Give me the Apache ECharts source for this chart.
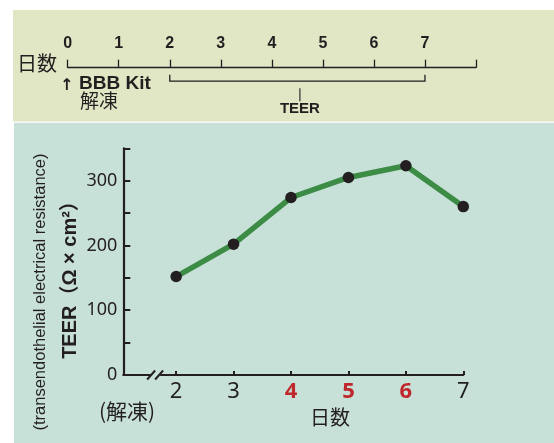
<!DOCTYPE html>
<html><head><meta charset="utf-8">
<script src="https://cdn.jsdelivr.net/npm/echarts@6/dist/echarts.min.js"></script>
<style>html,body{margin:0;padding:0;background:#fff}#c{width:554px;height:443px}</style>
</head><body><div id="c"></div>
<script>
const days = [2, 3, 4, 5, 6, 7];
const teer = [152, 202, 274, 305, 323, 260];
const redDays = [4, 5, 6];
const timelineDays = [0, 1, 2, 3, 4, 5, 6, 7];
const yTicks = [0, 100, 200, 300];

const INK = '#231f20';
const chart = echarts.init(document.getElementById('c'), null, {renderer: 'canvas'});
const CJK = '"Noto Sans CJK JP", "Noto Sans", sans-serif';
const NARROW = '"Liberation Sans Narrow", "Noto Sans", sans-serif';

const option = {
  animation: false,
  backgroundColor: '#ffffff',
  grid: [
    {left: 123.3, right: 90.7, top: 148.3, bottom: 68, containLabel: false},
    {left: 67.7, right: 78, top: 66.7, height: 1}
  ],
  xAxis: [
    {
      type: 'value', gridIndex: 0, min: 1.08, max: 7,
      axisLine: {show: true, lineStyle: {color: INK, width: 2.2}},
      axisTick: {show: true, inside: true, length: 4, lineStyle: {color: INK, width: 2}, customValues: days},
      axisLabel: {
        customValues: days, margin: 6,
        formatter: v => redDays.includes(v) ? '{r|' + v + '}' : '{n|' + v + '}',
        rich: {
          n: {fontFamily: NARROW, fontSize: 22, color: INK},
          r: {fontFamily: NARROW, fontSize: 22, fontWeight: 'bold', color: '#c0272d'}
        }
      },
      splitLine: {show: false}
    },
    {
      type: 'value', gridIndex: 1, min: 0, max: 8, interval: 1, position: 'top',
      axisLine: {show: true, lineStyle: {color: INK, width: 1.3}},
      axisTick: {show: true, inside: false, length: 8, lineStyle: {color: INK, width: 1.3}},
      axisLabel: {
        margin: 15, fontFamily: '"Liberation Sans", Arial, sans-serif', fontWeight: 'bold', fontSize: 16, color: INK,
        formatter: v => timelineDays.includes(v) ? String(v) : ''
      },
      splitLine: {show: false}
    }
  ],
  yAxis: [
    {
      type: 'value', gridIndex: 0, min: 0, max: 350, interval: 50,
      axisLine: {show: true, lineStyle: {color: INK, width: 2.2}},
      axisTick: {show: true, inside: true, length: 7, lineStyle: {color: INK, width: 2}},
      axisLabel: {
        margin: 6, fontFamily: NARROW, fontSize: 18, color: INK,
        formatter: v => yTicks.includes(v) ? String(v) : ''
      },
      splitLine: {show: false}
    },
    {type: 'value', gridIndex: 1, show: false}
  ],
  series: [{
    type: 'line', xAxisIndex: 0, yAxisIndex: 0,
    data: days.map((d, i) => [d, teer[i]]),
    symbol: 'circle', symbolSize: 11.5,
    itemStyle: {color: INK},
    lineStyle: {color: '#3c8c46', width: 5.5},
    z: 3
  }]
};

const bg = [
  {type: 'rect', shape: {x: 13, y: 10, width: 541, height: 111.5}, style: {fill: '#e1e6c5'}, z: -10, silent: true},
  {type: 'rect', shape: {x: 14, y: 122.7, width: 540, height: 321}, style: {fill: '#c8e1d8'}, z: -10, silent: true}
];
option.graphic = bg;
chart.setOption(option);

const px = (g, x, y) => chart.convertToPixel({gridIndex: g}, [x, y]);
const tl2 = px(1, 2, 0), tl7 = px(1, 7, 0), tlMid = px(1, 4.55, 0), tl0 = px(1, 0, 0);
const axisY = tl2[1];
const brY = axisY + 13.5;
const p2 = px(0, 2, 0);
const brk = p2[0] - 20;
const yBase = p2[1];

const g = bg.concat([
  {type: 'text', style: {text: '日数', x: 17, y: axisY - 4, textVerticalAlign: 'middle', font: '20px ' + CJK, fill: INK}},
  {type: 'text', style: {text: '↑', x: tl0[0] - 1, y: axisY + 18, textAlign: 'center', textVerticalAlign: 'middle', font: 'bold 16px "DejaVu Sans", sans-serif', fill: INK}},
  {type: 'text', style: {text: 'BBB Kit', x: 79, y: axisY + 16, textVerticalAlign: 'middle', font: 'bold 19px "Liberation Sans", Arial, sans-serif', fill: INK}},
  {type: 'text', style: {text: '解凍', x: 80, y: axisY + 33, textVerticalAlign: 'middle', font: '19px ' + CJK, fill: INK}},
  {type: 'polyline', shape: {points: [[tl2[0], axisY + 7], [tl2[0], brY], [tl7[0], brY], [tl7[0], axisY + 7]]}, style: {stroke: INK, lineWidth: 1.3, fill: null}},
  {type: 'line', shape: {x1: tlMid[0], y1: brY + 7, x2: tlMid[0], y2: brY + 20}, style: {stroke: INK, lineWidth: 1.1}},
  {type: 'text', style: {text: 'TEER', x: tlMid[0], y: brY + 28, textAlign: 'center', textVerticalAlign: 'middle', font: 'bold 15px "Liberation Sans", Arial, sans-serif', fill: INK}},
  {type: 'rect', shape: {x: brk - 5, y: yBase - 2, width: 9, height: 4}, style: {fill: '#c8e1d8'}, z: 50},
  {type: 'line', shape: {x1: brk - 9, y1: yBase + 4.5, x2: brk - 1, y2: yBase - 4.5}, style: {stroke: INK, lineWidth: 2}, z: 51},
  {type: 'line', shape: {x1: brk - 1, y1: yBase + 4.5, x2: brk + 7, y2: yBase - 4.5}, style: {stroke: INK, lineWidth: 2}, z: 51},
  {type: 'text', style: {text: '(解凍)', x: 99, y: 411, textVerticalAlign: 'middle', font: '21px ' + CJK, fill: INK}},
  {type: 'text', style: {text: '日数', x: 330, y: 417, textAlign: 'center', textVerticalAlign: 'middle', font: '20px ' + CJK, fill: INK}},
  {type: 'text', rotation: Math.PI / 2, x: 70, y: 275,
   style: {text: 'TEER（Ω × cm²）', x: 0, y: 0, textAlign: 'center', textVerticalAlign: 'middle', font: 'bold 20px "Liberation Sans", ' + CJK, fill: INK}},
  {type: 'text', rotation: Math.PI / 2, x: 40, y: 292,
   style: {text: '(transendothelial electrical resistance)', x: 0, y: 0, textAlign: 'center', textVerticalAlign: 'middle', font: '16.5px "Liberation Sans", Arial, sans-serif', fill: INK}}
]);
chart.setOption({graphic: g}, {replaceMerge: ['graphic']});
</script></body></html>
